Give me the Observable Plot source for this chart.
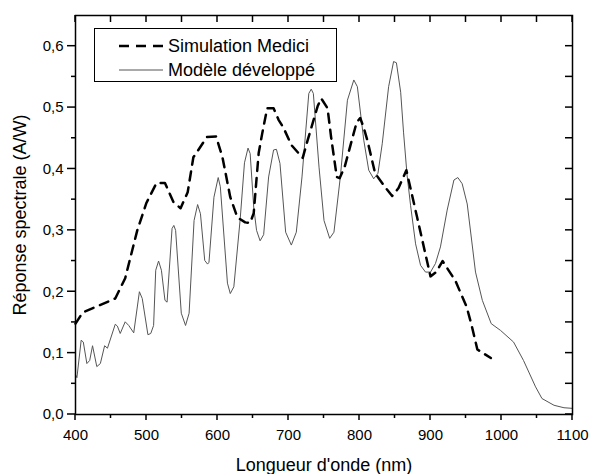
<!DOCTYPE html>
<html><head><meta charset="utf-8">
<script src="https://cdn.jsdelivr.net/npm/d3@7"></script>
<script src="https://cdn.jsdelivr.net/npm/@observablehq/plot@0.6"></script>
<style>
body{margin:0;background:#fff;}
#chart{width:589px;height:474px;}
</style></head><body><div id="chart"></div>
<script>
// Simulation Medici (dashed)
const medLambda = [400,410,430,456,470,487,500,514,526,538,548,558,566,573,585,598,607,618,628,639,646,651,658,663,670,679,686,693,704,720,727,741,746,755,760,768,772,779,796,801,806,811,822,827,837,846,855,866,881,900,908,917,935,951,958,966,985];
const medValue  = [0.148,0.166,0.176,0.189,0.222,0.300,0.345,0.377,0.377,0.346,0.336,0.362,0.419,0.431,0.452,0.453,0.419,0.354,0.321,0.313,0.312,0.328,0.426,0.458,0.499,0.499,0.480,0.467,0.439,0.418,0.447,0.502,0.515,0.499,0.452,0.387,0.385,0.403,0.476,0.483,0.467,0.447,0.393,0.385,0.369,0.356,0.369,0.398,0.322,0.225,0.232,0.250,0.218,0.175,0.145,0.106,0.092];

// Modèle développé (solid)
const modLambda = [400,402,408,411,416,420,424,430,435,441,445,456,459,463,470,475,482,490,494,502,506,510,513,517,521,526,529,536,538.5,541,549,555,560,567,572,576,582,586,588,595,601,604,614,618,623,632,638,643,646,651,655,660,665,672,679,683,688,696,704,711,719,728.6,732,735,743,750,758,764,773,783,792,797,806,813,820,826,832,841,848,852,858,862,867,872,879,886,893,900,907,914,923.5,933,938.5,944.6,951.7,963.4,973,985.5,998.6,1017,1031,1048,1057,1074,1088,1100];
const modValue  = [0.065,0.060,0.121,0.118,0.083,0.088,0.112,0.078,0.083,0.112,0.108,0.147,0.144,0.132,0.151,0.145,0.133,0.200,0.189,0.130,0.132,0.145,0.235,0.250,0.235,0.186,0.183,0.303,0.308,0.300,0.165,0.145,0.165,0.316,0.342,0.327,0.251,0.245,0.248,0.354,0.386,0.371,0.214,0.197,0.208,0.319,0.410,0.434,0.425,0.338,0.300,0.283,0.293,0.387,0.431,0.432,0.409,0.297,0.276,0.297,0.387,0.523,0.530,0.523,0.403,0.316,0.287,0.297,0.387,0.512,0.545,0.534,0.447,0.398,0.384,0.393,0.441,0.534,0.575,0.573,0.525,0.460,0.390,0.340,0.278,0.243,0.232,0.232,0.246,0.273,0.333,0.382,0.386,0.376,0.343,0.232,0.186,0.148,0.137,0.118,0.088,0.045,0.026,0.015,0.011,0.010];

const xMajorTicks = [400,500,600,700,800,900,1000,1100];
const xMinorTicks = [450,550,650,750,850,950,1050];
const yMajorTicks = [0,0.1,0.2,0.3,0.4,0.5,0.6];
const yMinorTicks = [0.05,0.15,0.25,0.35,0.45,0.55];
const yTickLabels = ["0,0","0,1","0,2","0,3","0,4","0,5","0,6"];
const xLabel = "Longueur d'onde (nm)";
const yLabel = "Réponse spectrale (A/W)";
const seriesNames = ["Simulation Medici","Modèle développé"];

(function () {
  const medici = medLambda.map((x,i)=>({x, y: medValue[i]}));
  const model = modLambda.map((x,i)=>({x, y: modValue[i]}));
  const font = "Arial, 'Liberation Sans', sans-serif";

  const W = 589, H = 474, mL = 75, mR = 17, mT = 15, mB = 60;
  const fTop = mT, fBottom = H - mB, fLeft = mL, fRight = W - mR;

  const chart = Plot.plot({
    width: W, height: H,
    marginLeft: mL, marginRight: mR, marginTop: mT, marginBottom: mB,
    style: {fontFamily: font, background: "#fff", color: "#000"},
    x: {domain: [400, 1100]},
    y: {domain: [0, 0.65]},
    marks: [
      Plot.line(model, {x: "x", y: "y", stroke: "#555", strokeWidth: 1}),
      Plot.line(medici, {x: "x", y: "y", stroke: "#000", strokeWidth: 2.5, strokeDasharray: "9,7"}),
      Plot.axisX({ticks: xMajorTicks, tickSize: 0, tickPadding: 15, fontSize: 15, label: null, tickFormat: d => String(d)}),
      Plot.axisY({ticks: yMajorTicks, tickSize: 0, tickPadding: 12, fontSize: 15, label: null, tickFormat: d => yTickLabels[yMajorTicks.indexOf(d)]}),
      Plot.frame({stroke: "#000", strokeWidth: 1.5}),
      Plot.text([xLabel], {frameAnchor: "bottom", dy: 51, fontSize: 18, textAnchor: "middle", lineAnchor: "middle"}),
      Plot.text([yLabel], {frameAnchor: "left", dx: -55, rotate: -90, fontSize: 18, textAnchor: "middle", lineAnchor: "middle"})
    ]
  });

  document.getElementById("chart").appendChild(chart);

  // tick marks placed with the plot's own scales
  const sx = chart.scale("x"), sy = chart.scale("y");
  const root = d3.select(chart);
  const tg = root.append("g").attr("stroke", "#000").attr("stroke-width", 1.5);
  const drawTicksX = (values, y1, y2) => values.forEach(v => {
    const px = sx.apply(v);
    tg.append("line").attr("x1", px).attr("x2", px).attr("y1", y1).attr("y2", y2);
  });
  const drawTicksY = (values, x1, x2) => values.forEach(v => {
    const py = sy.apply(v);
    tg.append("line").attr("x1", x1).attr("x2", x2).attr("y1", py).attr("y2", py);
  });
  drawTicksX(xMajorTicks, fBottom, fBottom + 6);
  drawTicksX(xMinorTicks, fBottom, fBottom + 4);
  drawTicksX(xMajorTicks.concat(xMinorTicks), fTop, fTop + 7);
  drawTicksY(yMajorTicks, fLeft - 8, fLeft);
  drawTicksY(yMinorTicks, fLeft - 4, fLeft);
  drawTicksY(yMajorTicks.concat(yMinorTicks), fRight - 7, fRight);

  // legend inside the frame
  const lg = root.append("g").attr("font-family", font).attr("font-size", 18).attr("text-anchor", "start");
  lg.append("rect").attr("x", 94.5).attr("y", 28.5).attr("width", 242).attr("height", 53)
    .attr("fill", "#fff").attr("stroke", "#000").attr("stroke-width", 1);
  lg.append("line").attr("x1", 119).attr("x2", 163).attr("y1", 46).attr("y2", 46)
    .attr("stroke", "#000").attr("stroke-width", 2.5).attr("stroke-dasharray", "10,7");
  lg.append("line").attr("x1", 119).attr("x2", 163).attr("y1", 70).attr("y2", 70)
    .attr("stroke", "#555").attr("stroke-width", 1);
  lg.append("text").attr("x", 168).attr("y", 46).attr("dy", "0.35em").attr("text-anchor", "start").text(seriesNames[0]);
  lg.append("text").attr("x", 168).attr("y", 70).attr("dy", "0.35em").attr("text-anchor", "start").text(seriesNames[1]);
})();
</script>
</body></html>
